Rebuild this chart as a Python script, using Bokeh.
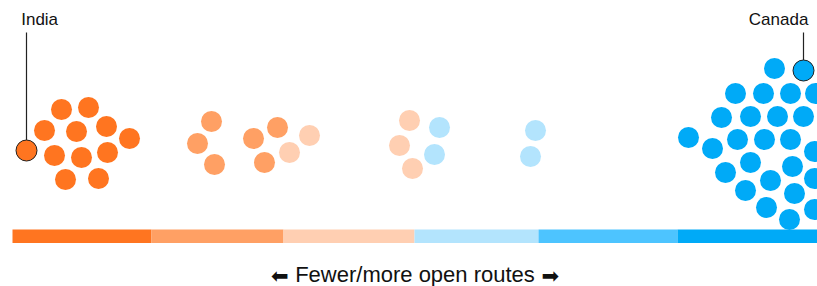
from bokeh.plotting import figure
from bokeh.models import Range1d
from bokeh.core.properties import value
from bokeh.embed import file_html
from bokeh.resources import INLINE

# ---- data (positions on the openness scale, beeswarm offsets) ----
bin_edges = [12, 151, 283, 414, 538, 677, 823]
bin_colors = ["#FF7520", "#FFA064", "#FFCFB2", "#B3E4FD", "#4DC4FF", "#00AAF7"]

# group index refers to bin_colors
g0_x = [26, 61, 88, 44, 76, 106, 129, 54, 81, 107, 65, 98]
g0_y = [150, 109, 107, 130, 131, 126, 138, 155, 157, 152, 179, 178]
g1_x = [211, 197, 214, 253, 277, 264]
g1_y = [121, 143, 164, 138, 127, 162]
g2_x = [289, 309, 409, 399, 412]
g2_y = [152, 135, 120, 145, 168]
g3_x = [439, 434, 535, 530]
g3_y = [127, 154, 130, 156]
g5_x = [774, 803, 735, 763, 790, 815, 721, 750, 777, 803,
        688, 712, 737, 764, 790, 814, 750, 725, 792, 814,
        770, 745, 794, 766, 814, 789]
g5_y = [68, 70, 93, 93, 93, 93, 117, 116, 116, 116,
        137, 148, 139, 139, 139, 151, 162, 172, 166, 178,
        180, 190, 193, 207, 209, 219]

labels = ["India", "Canada"]
label_x = [20.7, 748.3]
highlight_x = [26, 803]
highlight_y = [150, 70]
axis_label = "Fewer/more open routes"
arrows = ["\u2B05", "\u27A1"]

W, H = 817, 286
R = 10.5

p = figure(width=W, height=H, output_backend="svg", toolbar_location=None,
           x_range=Range1d(0, W), y_range=Range1d(H, 0),
           min_border=0, min_border_left=0, min_border_right=0,
           min_border_top=0, min_border_bottom=0)
p.axis.visible = False
p.grid.visible = False
p.outline_line_color = None
p.background_fill_color = "white"
p.border_fill_color = "white"

# colour bar
p.quad(left=bin_edges[:-1], right=bin_edges[1:], bottom=242.5, top=229,
       fill_color=bin_colors, line_color=None)

groups = [(g0_x, g0_y, 0), (g1_x, g1_y, 1), (g2_x, g2_y, 2), (g3_x, g3_y, 3), (g5_x, g5_y, 5)]
for gx, gy, ci in groups:
    p.scatter(x=gx, y=gy, size=2 * R, fill_color=bin_colors[ci], line_color=None)

# highlighted countries
hcol = [bin_colors[0], bin_colors[5]]
p.segment(x0=highlight_x, y0=[32, 32], x1=highlight_x, y1=[y - R for y in highlight_y],
          line_color="#222222", line_width=1.2)
p.scatter(x=highlight_x, y=highlight_y, size=2 * R, fill_color=hcol,
          line_color="#222222", line_width=1)

p.text(x=label_x, y=[19, 19], text=labels, text_font=value("Liberation Sans"),
       text_font_size="17px", text_color="#111111", text_baseline="middle",
       text_align="left")

p.text(x=[414.5], y=[274], text=[axis_label], text_font=value("Liberation Sans"),
       text_font_size="22px", text_color="#111111", text_baseline="middle",
       text_align="center")
p.text(x=[288, 541], y=[275, 275], text=arrows, text_font=value("DejaVu Sans"),
       text_font_size="21px", text_color="#111111",
       text_baseline="middle", text_align=["right", "left"])

open("out.html", "w").write(file_html(p, INLINE))
